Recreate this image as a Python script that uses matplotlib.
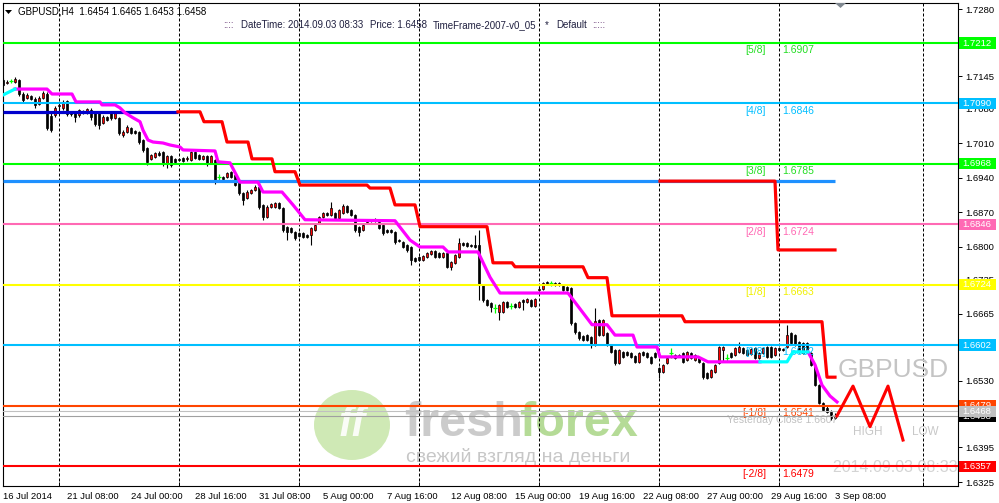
import matplotlib
matplotlib.use("Agg")
import matplotlib.pyplot as plt
from matplotlib.patches import Rectangle, Ellipse, Polygon
import matplotlib.transforms as mtransforms

plt.rcParams['font.family'] = ['Liberation Sans', 'DejaVu Sans']

# GBPUSD H4 candles, 16 Jul 2014 .. 3 Sep 2014 08:00
opens = [
    1.7137, 1.7131, 1.7135, 1.7133, 1.7137, 1.7109, 1.7101, 1.7105, 1.7099, 1.7089,
    1.7101, 1.7109, 1.7065, 1.7067, 1.7085, 1.7081, 1.7095, 1.7073, 1.7071, 1.7067,
    1.7075, 1.7071, 1.7077, 1.7073, 1.7071, 1.7051, 1.7063, 1.7071, 1.7061, 1.7061,
    1.7026, 1.7032, 1.7041, 1.7034, 1.7032, 1.7016, 1.7000, 1.6978, 1.6982, 1.6990,
    1.6992, 1.6970, 1.6984, 1.6978, 1.6978, 1.6980, 1.6978, 1.6976, 1.6992, 1.6986,
    1.6978, 1.6984, 1.6970, 1.6976, 1.6942, 1.6942, 1.6942, 1.6952, 1.6946, 1.6929,
    1.6909, 1.6899, 1.6909, 1.6915, 1.6921, 1.6885, 1.6861, 1.6881, 1.6881, 1.6889,
    1.6879, 1.6841, 1.6839, 1.6830, 1.6828, 1.6828, 1.6824, 1.6824, 1.6834, 1.6849,
    1.6861, 1.6869, 1.6865, 1.6869, 1.6859, 1.6869, 1.6883, 1.6875, 1.6865, 1.6841,
    1.6834, 1.6851, 1.6853, 1.6857, 1.6851, 1.6845, 1.6834, 1.6834, 1.6830, 1.6814,
    1.6810, 1.6804, 1.6800, 1.6778, 1.6780, 1.6774, 1.6780, 1.6786, 1.6792, 1.6788,
    1.6780, 1.6788, 1.6760, 1.6768, 1.6780, 1.6808, 1.6808, 1.6804, 1.6804, 1.6804,
    1.6723, 1.6693, 1.6687, 1.6677, 1.6669, 1.6669, 1.6689, 1.6681, 1.6685, 1.6679,
    1.6693, 1.6689, 1.6693, 1.6681, 1.6713, 1.6715, 1.6729, 1.6727, 1.6727, 1.6727,
    1.6721, 1.6719, 1.6717, 1.6647, 1.6628, 1.6620, 1.6622, 1.6618, 1.6602, 1.6653,
    1.6622, 1.6626, 1.6602, 1.6592, 1.6566, 1.6588, 1.6588, 1.6586, 1.6580, 1.6568,
    1.6588, 1.6586, 1.6578, 1.6586, 1.6556, 1.6548, 1.6566, 1.6586, 1.6582, 1.6582,
    1.6586, 1.6572, 1.6586, 1.6572, 1.6576, 1.6566, 1.6545, 1.6537, 1.6548, 1.6566,
    1.6592, 1.6576, 1.6586, 1.6582, 1.6588, 1.6596, 1.6592, 1.6584, 1.6596, 1.6576,
    1.6586, 1.6598, 1.6598, 1.6582, 1.6596, 1.6594, 1.6598, 1.6626, 1.6622, 1.6608,
    1.6606, 1.6606, 1.6586, 1.6560, 1.6521, 1.6485, 1.6475, 1.6467, 1.6454,
]
highs = [
    1.7142, 1.7137, 1.7140, 1.7144, 1.7140, 1.7113, 1.7111, 1.7107, 1.7103, 1.7105,
    1.7115, 1.7113, 1.7071, 1.7085, 1.7093, 1.7097, 1.7097, 1.7075, 1.7073, 1.7079,
    1.7077, 1.7081, 1.7081, 1.7075, 1.7073, 1.7067, 1.7065, 1.7073, 1.7075, 1.7063,
    1.7036, 1.7047, 1.7043, 1.7036, 1.7034, 1.7018, 1.7002, 1.6988, 1.6992, 1.6994,
    1.6994, 1.6986, 1.6986, 1.6980, 1.6980, 1.6982, 1.6984, 1.6994, 1.6994, 1.6988,
    1.6986, 1.6986, 1.6986, 1.6978, 1.6948, 1.6944, 1.6952, 1.6954, 1.6948, 1.6931,
    1.6911, 1.6915, 1.6917, 1.6925, 1.6923, 1.6887, 1.6885, 1.6889, 1.6891, 1.6891,
    1.6881, 1.6843, 1.6841, 1.6832, 1.6830, 1.6830, 1.6826, 1.6841, 1.6847, 1.6863,
    1.6871, 1.6871, 1.6891, 1.6871, 1.6877, 1.6887, 1.6885, 1.6877, 1.6867, 1.6843,
    1.6847, 1.6857, 1.6857, 1.6859, 1.6853, 1.6847, 1.6837, 1.6837, 1.6832, 1.6816,
    1.6812, 1.6806, 1.6802, 1.6780, 1.6782, 1.6784, 1.6790, 1.6794, 1.6794, 1.6790,
    1.6790, 1.6790, 1.6772, 1.6786, 1.6818, 1.6810, 1.6810, 1.6806, 1.6824, 1.6834,
    1.6725, 1.6695, 1.6689, 1.6685, 1.6685, 1.6691, 1.6691, 1.6687, 1.6687, 1.6691,
    1.6695, 1.6697, 1.6695, 1.6697, 1.6721, 1.6729, 1.6731, 1.6731, 1.6729, 1.6729,
    1.6723, 1.6721, 1.6719, 1.6649, 1.6630, 1.6622, 1.6624, 1.6620, 1.6677, 1.6655,
    1.6655, 1.6628, 1.6604, 1.6594, 1.6594, 1.6590, 1.6590, 1.6588, 1.6582, 1.6588,
    1.6590, 1.6588, 1.6580, 1.6588, 1.6558, 1.6564, 1.6578, 1.6596, 1.6584, 1.6584,
    1.6588, 1.6590, 1.6588, 1.6584, 1.6578, 1.6568, 1.6547, 1.6554, 1.6564, 1.6600,
    1.6600, 1.6584, 1.6588, 1.6598, 1.6608, 1.6598, 1.6594, 1.6596, 1.6598, 1.6588,
    1.6598, 1.6600, 1.6600, 1.6598, 1.6598, 1.6596, 1.6643, 1.6628, 1.6624, 1.6610,
    1.6608, 1.6608, 1.6588, 1.6562, 1.6523, 1.6487, 1.6481, 1.6471, 1.6465,
]
lows = [
    1.7125, 1.7129, 1.7131, 1.7131, 1.7105, 1.7091, 1.7099, 1.7097, 1.7081, 1.7087,
    1.7099, 1.7036, 1.7032, 1.7063, 1.7077, 1.7077, 1.7065, 1.7065, 1.7053, 1.7063,
    1.7069, 1.7069, 1.7057, 1.7045, 1.7039, 1.7049, 1.7055, 1.7057, 1.7059, 1.7026,
    1.7022, 1.7030, 1.7028, 1.7028, 1.7008, 1.6992, 1.6966, 1.6976, 1.6980, 1.6984,
    1.6964, 1.6960, 1.6962, 1.6970, 1.6974, 1.6972, 1.6974, 1.6974, 1.6978, 1.6976,
    1.6976, 1.6964, 1.6968, 1.6927, 1.6935, 1.6935, 1.6940, 1.6940, 1.6923, 1.6905,
    1.6885, 1.6897, 1.6907, 1.6913, 1.6877, 1.6855, 1.6859, 1.6879, 1.6879, 1.6877,
    1.6830, 1.6814, 1.6828, 1.6814, 1.6820, 1.6818, 1.6818, 1.6804, 1.6832, 1.6847,
    1.6859, 1.6863, 1.6863, 1.6857, 1.6857, 1.6867, 1.6869, 1.6863, 1.6830, 1.6822,
    1.6832, 1.6847, 1.6851, 1.6851, 1.6837, 1.6824, 1.6828, 1.6828, 1.6806, 1.6810,
    1.6798, 1.6790, 1.6764, 1.6770, 1.6772, 1.6772, 1.6778, 1.6784, 1.6778, 1.6778,
    1.6778, 1.6758, 1.6754, 1.6766, 1.6778, 1.6802, 1.6800, 1.6800, 1.6798, 1.6693,
    1.6689, 1.6681, 1.6669, 1.6667, 1.6653, 1.6667, 1.6677, 1.6675, 1.6677, 1.6677,
    1.6673, 1.6687, 1.6679, 1.6679, 1.6711, 1.6713, 1.6723, 1.6721, 1.6721, 1.6721,
    1.6711, 1.6711, 1.6643, 1.6624, 1.6612, 1.6610, 1.6610, 1.6596, 1.6600, 1.6620,
    1.6620, 1.6600, 1.6586, 1.6562, 1.6564, 1.6576, 1.6580, 1.6576, 1.6566, 1.6566,
    1.6580, 1.6576, 1.6564, 1.6576, 1.6535, 1.6546, 1.6564, 1.6576, 1.6574, 1.6578,
    1.6566, 1.6570, 1.6574, 1.6570, 1.6566, 1.6533, 1.6533, 1.6535, 1.6546, 1.6564,
    1.6570, 1.6570, 1.6576, 1.6580, 1.6586, 1.6584, 1.6580, 1.6582, 1.6574, 1.6574,
    1.6584, 1.6576, 1.6576, 1.6580, 1.6590, 1.6590, 1.6596, 1.6604, 1.6600, 1.6586,
    1.6584, 1.6586, 1.6560, 1.6519, 1.6483, 1.6469, 1.6465, 1.6451, 1.6453,
]
closes = [
    1.7127, 1.7133, 1.7135, 1.7140, 1.7109, 1.7097, 1.7107, 1.7099, 1.7087, 1.7101,
    1.7111, 1.7041, 1.7036, 1.7081, 1.7087, 1.7093, 1.7069, 1.7069, 1.7063, 1.7077,
    1.7071, 1.7079, 1.7063, 1.7049, 1.7047, 1.7063, 1.7057, 1.7061, 1.7071, 1.7030,
    1.7032, 1.7043, 1.7030, 1.7030, 1.7012, 1.6996, 1.6972, 1.6986, 1.6990, 1.6986,
    1.6970, 1.6984, 1.6966, 1.6972, 1.6976, 1.6974, 1.6980, 1.6992, 1.6980, 1.6978,
    1.6984, 1.6970, 1.6984, 1.6933, 1.6942, 1.6938, 1.6950, 1.6942, 1.6925, 1.6909,
    1.6895, 1.6911, 1.6915, 1.6921, 1.6881, 1.6861, 1.6881, 1.6887, 1.6889, 1.6879,
    1.6834, 1.6830, 1.6830, 1.6818, 1.6822, 1.6820, 1.6820, 1.6839, 1.6845, 1.6861,
    1.6869, 1.6865, 1.6879, 1.6859, 1.6875, 1.6883, 1.6871, 1.6865, 1.6834, 1.6830,
    1.6845, 1.6853, 1.6855, 1.6853, 1.6839, 1.6828, 1.6830, 1.6830, 1.6810, 1.6812,
    1.6800, 1.6794, 1.6774, 1.6772, 1.6774, 1.6782, 1.6788, 1.6792, 1.6780, 1.6780,
    1.6788, 1.6760, 1.6770, 1.6784, 1.6808, 1.6804, 1.6802, 1.6802, 1.6800, 1.6723,
    1.6693, 1.6683, 1.6679, 1.6677, 1.6683, 1.6689, 1.6679, 1.6681, 1.6679, 1.6689,
    1.6689, 1.6695, 1.6681, 1.6695, 1.6715, 1.6727, 1.6725, 1.6727, 1.6723, 1.6723,
    1.6713, 1.6713, 1.6647, 1.6628, 1.6616, 1.6612, 1.6612, 1.6602, 1.6651, 1.6622,
    1.6653, 1.6602, 1.6588, 1.6566, 1.6592, 1.6578, 1.6582, 1.6578, 1.6568, 1.6586,
    1.6582, 1.6578, 1.6566, 1.6578, 1.6548, 1.6562, 1.6576, 1.6586, 1.6576, 1.6580,
    1.6568, 1.6588, 1.6576, 1.6582, 1.6568, 1.6537, 1.6535, 1.6552, 1.6562, 1.6598,
    1.6598, 1.6576, 1.6578, 1.6596, 1.6598, 1.6586, 1.6582, 1.6594, 1.6576, 1.6586,
    1.6596, 1.6578, 1.6578, 1.6596, 1.6592, 1.6592, 1.6622, 1.6606, 1.6602, 1.6588,
    1.6586, 1.6588, 1.6562, 1.6521, 1.6485, 1.6471, 1.6467, 1.6455, 1.6458,
]
assert len(opens) == len(highs) == len(lows) == len(closes) == 209

x_tick_bars = [0, 16, 32, 48, 64, 80, 96, 112, 128, 144, 160, 176, 192, 208]
x_tick_labels = ["16 Jul 2014", "21 Jul 08:00", "24 Jul 00:00", "28 Jul 16:00",
                 "31 Jul 08:00", "5 Aug 00:00", "7 Aug 16:00", "12 Aug 08:00",
                 "15 Aug 00:00", "19 Aug 16:00", "22 Aug 08:00", "27 Aug 00:00",
                 "29 Aug 16:00", "3 Sep 08:00"]
grid_bars = [14, 44, 74, 104, 134, 164, 194, 230]
y_ticks = [1.7280, 1.7145, 1.7080, 1.7010, 1.6940, 1.6870, 1.6800, 1.6735,
           1.6665, 1.6530, 1.6395, 1.6325]

# Murrey math levels
levels = [1.7212, 1.7090, 1.6968, 1.6846, 1.6724, 1.6602, 1.6479, 1.6357]
level_colors = ['#00ff00', '#00bfff', '#00ff00', '#ff69b4', '#ffff00', '#00bfff',
                '#ff4500', '#ff0000']
label_colors = ['#22dd22', '#00bfff', '#22dd22', '#ff69b4', '#f0f000', '#00bfff',
                '#ff4500', '#ff0000']
murrey_names = ['[5/8]', '[4/8]', '[3/8]', '[2/8]', '[1/8]', '[0/8]', '[-1/8]', '[-2/8]']
murrey_values = ['1.6907', '1.6846', '1.6785', '1.6724', '1.6663', '1.6602', '1.6541', '1.6479']
yesterday_close = 1.6468
last_price = 1.6458

# step moving average (magenta falling, cyan rising)
ma_up1_x = [0, 3]
ma_up1_y = [1.7107, 1.7119]
ma_dn1_x = [3, 11, 12.25, 17.25, 18.25, 24.25, 24.75, 28, 29.25, 30.5, 32.5, 34.25, 35,
            36.25, 37.5, 40, 41.75, 44.25, 45, 53, 53.75, 56.75, 59.25, 63.75, 65, 69.75,
            72.5, 75.5, 98, 101.75, 104.25, 110, 111.25, 118.75, 121.75, 124.25, 141.25,
            147.25, 151, 153, 157.5, 158.5, 163.5, 164.25, 173.75, 176.25, 189.25]
ma_dn1_y = [1.7119, 1.7119, 1.7109, 1.7109, 1.7093, 1.7093, 1.7087, 1.7087, 1.7081, 1.7071,
            1.7061, 1.7053, 1.7036, 1.7016, 1.7012, 1.7010, 1.7006, 1.7002, 1.6996, 1.6994,
            1.6972, 1.6970, 1.6931, 1.6931, 1.6911, 1.6911, 1.6885, 1.6855, 1.6853, 1.6814,
            1.6800, 1.6800, 1.6790, 1.6790, 1.6739, 1.6707, 1.6707, 1.6643, 1.6643, 1.6622,
            1.6622, 1.6598, 1.6598, 1.6578, 1.6578, 1.6568, 1.6568]
ma_up2_x = [189.25, 196, 197.5, 201.25]
ma_up2_y = [1.6568, 1.6568, 1.6588, 1.6588]
ma_dn2_x = [201.25, 203, 204.75, 206.75, 208.5]
ma_dn2_y = [1.6588, 1.6562, 1.6521, 1.6499, 1.6487]

# red trailing step line
stop_x = [43.75, 49.25, 50.25, 54.75, 56, 61.25, 62.25, 67.25, 68, 73, 74.25, 91, 91.75,
          96.75, 98, 103, 104.25, 121, 122.5, 127.25, 128, 145, 146.25, 151, 152.25,
          169.75, 170.5, 204.75, 206, 208]
stop_y = [1.7073, 1.7073, 1.7053, 1.7053, 1.7012, 1.7012, 1.6978, 1.6978, 1.6952, 1.6952,
          1.6925, 1.6925, 1.6919, 1.6919, 1.6885, 1.6885, 1.6841, 1.6841, 1.6768, 1.6768,
          1.6760, 1.6760, 1.6738, 1.6738, 1.6661, 1.6661, 1.6649, 1.6649, 1.6537, 1.6537]

# horizontal objects
navy_x = [0, 43.75]
navy_y = [1.7073, 1.7073]
blue_x = [0, 208]
blue_y = [1.6933, 1.6933]
red2_x = [164.25, 193, 193.75, 208]
red2_y = [1.6933, 1.6933, 1.6794, 1.6794]

# projected zigzag
zz_x = [208.5, 212.5, 216.75, 221.25, 225]
zz_y = [1.6459, 1.6519, 1.6437, 1.6519, 1.6410]

# ---------------------------------------------------------------
W, H = 999, 503
fig = plt.figure(figsize=(W / 100, H / 100), dpi=100)
ax = fig.add_axes([3 / W, (H - 486) / H, 955 / W, 483 / H])
ax.set_xlim(0, 238.75)
ax.set_ylim(1.63172, 1.72928)


def axp(px, py):
    # pixel position -> axes fraction
    return (px - 3) / 955, (486 - py) / 483


# watermark
ax.add_patch(Ellipse(axp(352, 425), 76 / 955, 70 / 483, transform=ax.transAxes,
                     facecolor='#a8d878', edgecolor='none', alpha=0.55, zorder=0.3))
ax.text(*axp(352, 425), 'ff', transform=ax.transAxes, fontsize=30, fontweight='bold',
        style='italic', color='white', alpha=0.9, ha='center', va='center', zorder=0.4)
ax.text(*axp(404, 424), 'fresh', transform=ax.transAxes, fontsize=35, fontweight='bold',
        color='#8c8c8c', alpha=0.45, ha='left', va='center', zorder=0.4)
ax.text(*axp(519, 424), 'forex', transform=ax.transAxes, fontsize=35, fontweight='bold',
        color='#6cb830', alpha=0.5, ha='left', va='center', zorder=0.4)
ax.text(*axp(406, 457), 'свежий взгляд на деньги', transform=ax.transAxes, fontsize=14,
        color='#909090', alpha=0.5, ha='left', va='center', zorder=0.4)

# grid
for g in grid_bars:
    ax.axvline(g, color='black', lw=0.72, ls=(0, (3, 2)), zorder=0.8)

# candles
for i in range(len(opens)):
    o, h, l, c = opens[i], highs[i], lows[i], closes[i]
    if o == c:
        ax.vlines(i, l, h, color='#00ff00', lw=0.9, zorder=3)
        ax.hlines(o, i - 0.45, i + 0.45, color='#00ff00', lw=0.9, zorder=3)
        continue
    ax.vlines(i, l, h, color='black', lw=0.8, zorder=2.9)
    face = '#ff0000' if c > o else 'black'
    ax.add_patch(Rectangle((i - 0.36, min(o, c)), 0.72, abs(c - o), facecolor=face,
                           edgecolor='black', lw=0.5, zorder=3))

# level lines
for lv, col in zip(levels, level_colors):
    ax.axhline(lv, color=col, lw=1.5, zorder=3.5)
ax.axhline(yesterday_close, color='#c0c0c0', lw=0.8, zorder=3.4)
ax.axhline(last_price, color='#a0a0a0', lw=0.8, zorder=3.4)

ax.plot(navy_x, navy_y, color='#0000cd', lw=2.3, zorder=3.6, solid_capstyle='butt')
ax.plot(blue_x, blue_y, color='#1e90ff', lw=2.3, zorder=3.6, solid_capstyle='butt')
ax.plot(red2_x, red2_y, color='#ff0000', lw=2.3, zorder=3.7)
ax.plot(stop_x, stop_y, color='#ff0000', lw=2.3, zorder=3.7)
ax.plot(ma_dn1_x, ma_dn1_y, color='#ff00ff', lw=2.3, zorder=3.8)
ax.plot(ma_dn2_x, ma_dn2_y, color='#ff00ff', lw=2.3, zorder=3.8)
ax.plot(ma_up1_x, ma_up1_y, color='#00ffff', lw=2.3, zorder=3.8)
ax.plot(ma_up2_x, ma_up2_y, color='#00ffff', lw=2.3, zorder=3.8)
ax.plot(zz_x, zz_y, color='#ff0000', lw=2.2, zorder=3.8)

# murrey labels
for lv, name, val, col in zip(levels, murrey_names, murrey_values, label_colors):
    ax.text(190.75, lv - 0.0015, name, color=col, fontsize=7.5, ha='right', va='center',
            zorder=3.3)
    ax.text(194.75, lv - 0.0015, val, color=col, fontsize=7.5, ha='left', va='center',
            zorder=3.3)

ax.text(208.5, 1.6451, 'Yesterday Close 1.6607', color='#c0c0c0', fontsize=7.5,
        ha='right', va='center', zorder=3.2)
ax.text(208.75, 1.6552, 'GBPUSD', color='#c4c4c4', fontsize=19, ha='left', va='center',
        zorder=3.2)
ax.text(212.5, 1.6426, 'HIGH', color='#c8c8c8', fontsize=8.5, ha='left', va='center')
ax.text(227.25, 1.6426, 'LOW', color='#c8c8c8', fontsize=8.5, ha='left', va='center')
ax.text(207.5, 1.6355, '2014.09.03 08:33', color='#d4d4d4', fontsize=11.5, ha='left',
        va='center', clip_on=True, zorder=3.2)

# axes styling
for sp in ax.spines.values():
    sp.set_linewidth(0.8)
    sp.set_color('black')
ax.yaxis.tick_right()
ax.set_yticks(y_ticks)
ax.set_yticklabels([f"{v:.4f}" for v in y_ticks])
ax.tick_params(axis='y', direction='out', length=3, width=0.7, labelsize=6.8, pad=2)
ax.set_xticks(x_tick_bars)
ax.set_xticklabels(x_tick_labels)
for lab in ax.get_xticklabels():
    lab.set_ha('left')
ax.set_xticks(grid_bars, minor=True)
ax.tick_params(axis='x', which='major', length=0, labelsize=6.8, pad=4)
ax.tick_params(axis='x', which='minor', direction='in', length=3, width=0.7)

# price boxes on the right scale
blend = mtransforms.blended_transform_factory(ax.transAxes, ax.transData)
box_h = 0.0023
box_prices = levels[:6] + [levels[7], levels[6], last_price, yesterday_close]
box_cols = level_colors[:6] + [level_colors[7], level_colors[6], 'black', '#c0c0c0']
for k, (p, col) in enumerate(zip(box_prices, box_cols)):
    ax.add_patch(Rectangle((956 / 955, p - box_h / 2), 37 / 955, box_h, transform=blend,
                           facecolor=col, edgecolor='none', clip_on=False, zorder=10 + k))
    ax.text(974 / 955, p, f"{p:.4f}", transform=blend, color='white', fontsize=6.8,
            ha='center', va='center', clip_on=False, zorder=10 + k)

# header texts
fig.text(18 / W, 1 - 12 / H, 'GBPUSD,H4  1.6454 1.6465 1.6453 1.6458', fontsize=7,
         va='center', ha='left')
fig.add_artist(Polygon([[5, H - 10], [12, H - 10], [8.5, H - 14]], closed=True,
                       transform=mtransforms.IdentityTransform(), facecolor='black'))
fig.add_artist(Polygon([[835, H - 3], [846, H - 3], [840.5, H - 8]], closed=True,
                       transform=mtransforms.IdentityTransform(), facecolor='#808890'))
hdr = [(223, '::::', '#5a2a6a'), (241, 'DateTime: 2014.09.03 08:33', '#202040'),
       (370, 'Price: 1.6458', '#202040'), (433, 'TimeFrame-2007-v0_05', '#202040'),
       (545, '*', '#202040'), (556, 'Default', '#202040'), (592, ':::::', '#5a2a6a')]
for px, s, col in hdr:
    fig.text(px / W, 1 - 25 / H, s, fontsize=7, color=col, va='center', ha='left')

fig.savefig('out.png', dpi=100)
